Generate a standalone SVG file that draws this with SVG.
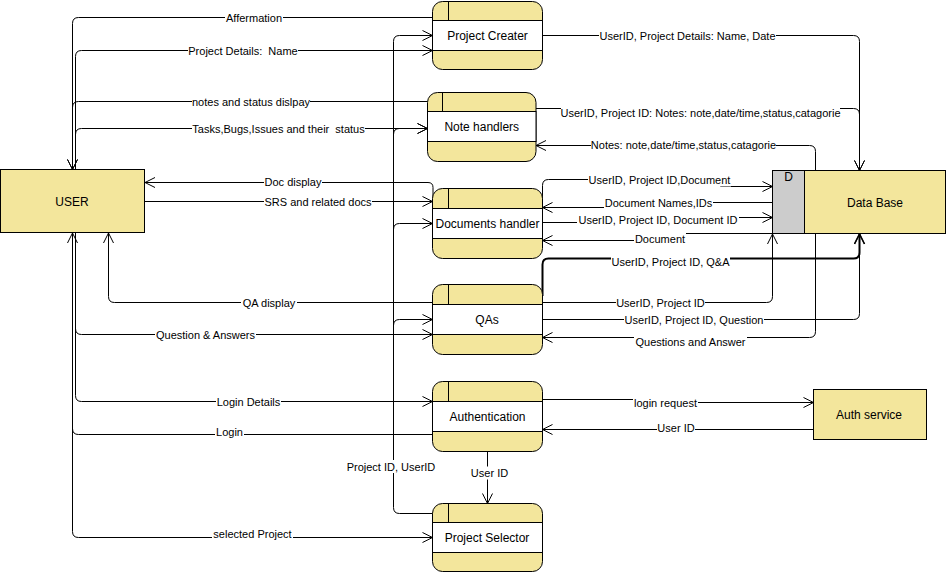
<svg xmlns="http://www.w3.org/2000/svg" width="949" height="575" viewBox="0 0 949 575">
<style>
.proc{fill:#F3E69C;stroke:#000;stroke-width:1}
.band{fill:#fff;stroke:#000;stroke-width:1}
.ent{fill:#F3E69C;stroke:#000;stroke-width:1}
.div{stroke:#000;stroke-width:1}
.nt{font-family:"Liberation Sans",Arial,Helvetica,sans-serif;font-size:12px;fill:#000;text-anchor:middle}
.ln{fill:none;stroke:#000;stroke-width:1;marker-end:url(#arr)}
.ln2{fill:none;stroke:#000;stroke-width:2;marker-end:url(#arr2)}
.lb{font-family:"Liberation Sans",Arial,Helvetica,sans-serif;font-size:11px;fill:#000;text-anchor:middle}
.bg{fill:#fff}
</style>
<defs>
<marker id="arr" viewBox="0 0 12 12" refX="11" refY="6" markerWidth="12" markerHeight="12" markerUnits="userSpaceOnUse" orient="auto"><path d="M1,1 L11,6 L1,11" fill="none" stroke="#000" stroke-width="1"/></marker>
<marker id="arr2" viewBox="0 0 12 12" refX="11" refY="6" markerWidth="12" markerHeight="12" markerUnits="userSpaceOnUse" orient="auto"><path d="M1,1 L11,6 L1,11" fill="none" stroke="#000" stroke-width="1.6"/></marker>
</defs>
<rect width="949" height="575" fill="#fff"/>
<g id="connectors">
<path class="ln" d="M432.5,17.5 H78.5 Q72.5,17.5 72.5,23.5 V169.5"/>
<path class="ln" d="M75.5,169.5 V56.5 Q75.5,50.5 81.5,50.5 H432.5"/>
<path class="ln" d="M427.5,101.5 H78.5 Q72.5,101.5 72.5,107.5 V169.5"/>
<path class="ln" d="M75.5,169.5 V134.5 Q75.5,128.5 81.5,128.5 H427.5"/>
<path class="ln" d="M440,513.5 H399.5 Q393.5,513.5 393.5,507.5 V41.5 Q393.5,35.5 399.5,35.5 H432.5"/>
<path class="ln" d="M393.5,140 V134.5 Q393.5,128.5 399.5,128.5 H427.5"/>
<path class="ln" d="M393.5,235 V229.5 Q393.5,223.5 399.5,223.5 H432.5"/>
<path class="ln" d="M393.5,330 V325.5 Q393.5,319.5 399.5,319.5 H432.5"/>
<path class="ln" d="M433,200 V187.5 Q433,182.5 428,182.5 H145"/>
<path class="ln" d="M145,201.5 H432.5"/>
<path class="ln" d="M432.5,302.5 H114.5 Q108.5,302.5 108.5,296.5 V233"/>
<path class="ln" d="M75.5,233 V328.5 Q75.5,334.5 81.5,334.5 H432.5"/>
<path class="ln" d="M75.5,233 V395.5 Q75.5,401.5 81.5,401.5 H432.5"/>
<path class="ln" d="M432.5,434.5 H78.5 Q72.5,434.5 72.5,428.5 V233"/>
<path class="ln" d="M72.5,233 V531.5 Q72.5,537.5 78.5,537.5 H432.5"/>
<path class="ln" d="M542.5,35.5 H853.5 Q859.5,35.5 859.5,41.5 V170.5"/>
<path class="ln" d="M536,108.5 H853.5 Q859.5,108.5 859.5,114.5 V170.5"/>
<path class="ln" d="M815.5,175 V151.5 Q815.5,145.5 809.5,145.5 H536"/>
<path class="ln" d="M542.5,200 V185.5 Q542.5,179.5 548.5,179.5 H720.5 V186.5 H772.5"/>
<path class="ln" d="M772.5,202.5 H690.5 V207.5 H542.5"/>
<path class="ln" d="M542.5,222.5 H640.5 V217.5 H772.5"/>
<path class="ln" d="M772.5,233.5 H670.5 V240.5 H542.5"/>
<path class="ln2" d="M542.5,296 V264.5 Q542.5,258.5 548.5,258.5 H853.5 Q859.5,258.5 859.5,252.5 V234"/>
<path class="ln" d="M542.5,302.5 H766.5 Q772.5,302.5 772.5,296.5 V234"/>
<path class="ln" d="M542.5,319.5 H853.5 Q859.5,319.5 859.5,313.5 V234"/>
<path class="ln" d="M815.5,230 V331.5 Q815.5,337.5 809.5,337.5 H542.5"/>
<path class="ln" d="M542.5,399.5 H650.5 V402.5 H813.5"/>
<path class="ln" d="M813.5,429.5 H542.5"/>
<path class="ln" d="M487.5,451.5 V503.5"/>
<g id="labels">
<rect class="bg" x="225" y="11" width="58" height="13"/><text class="lb" x="254" y="21.5">Affermation</text>
<rect class="bg" x="188" y="44" width="110" height="13"/><text class="lb" x="243" y="54.5" xml:space="preserve">Project Details:  Name</text>
<rect class="bg" x="192" y="95" width="118" height="13"/><text class="lb" x="251" y="105.5">notes and status dislpay</text>
<rect class="bg" x="192" y="122" width="173" height="13"/><text class="lb" x="278.5" y="132.5" xml:space="preserve">Tasks,Bugs,Issues and their  status</text>
<rect class="bg" x="264" y="175.5" width="58" height="13"/><text class="lb" x="293" y="186">Doc display</text>
<rect class="bg" x="264" y="195" width="108" height="13"/><text class="lb" x="318" y="205.5">SRS and related docs</text>
<rect class="bg" x="241" y="296" width="56" height="13"/><text class="lb" x="269" y="306.5">QA display</text>
<rect class="bg" x="155" y="328.5" width="101" height="13"/><text class="lb" x="205.5" y="339">Question &amp; Answers</text>
<rect class="bg" x="216" y="395.5" width="65" height="13"/><text class="lb" x="248.5" y="406">Login Details</text>
<rect class="bg" x="215" y="425" width="29" height="13"/><text class="lb" x="229.5" y="435.5">Login</text>
<rect class="bg" x="212" y="527.5" width="81" height="13"/><text class="lb" x="252.5" y="538">selected Project</text>
<rect class="bg" x="346" y="460" width="90" height="13"/><text class="lb" x="391" y="470.5">Project ID, UserID</text>
<rect class="bg" x="470" y="466.5" width="39" height="13"/><text class="lb" x="489.5" y="477">User ID</text>
<rect class="bg" x="599" y="29" width="177" height="13"/><text class="lb" x="687.5" y="39.5">UserID, Project Details: Name, Date</text>
<rect class="bg" x="561" y="106.5" width="279" height="13"/><text class="lb" x="700.5" y="117">UserID, Project ID: Notes: note,date/time,status,catagorie</text>
<rect class="bg" x="591" y="138.5" width="185" height="13"/><text class="lb" x="683.5" y="149">Notes: note,date/time,status,catagorie</text>
<rect class="bg" x="588" y="173.5" width="143" height="13"/><text class="lb" x="659.5" y="184">UserID, Project ID,Document</text>
<rect class="bg" x="604" y="196" width="109" height="13"/><text class="lb" x="658.5" y="206.5">Document Names,IDs</text>
<rect class="bg" x="577" y="213" width="162" height="13"/><text class="lb" x="658" y="223.5">UserID, Project ID, Document ID</text>
<rect class="bg" x="634" y="232.5" width="52" height="13"/><text class="lb" x="660" y="243">Document</text>
<rect class="bg" x="611" y="255" width="119" height="13"/><text class="lb" x="670.5" y="265.5">UserID, Project ID, Q&amp;A</text>
<rect class="bg" x="616" y="296" width="89" height="13"/><text class="lb" x="660.5" y="306.5">UserID, Project ID</text>
<rect class="bg" x="624" y="313" width="140" height="13"/><text class="lb" x="694" y="323.5">UserID, Project ID, Question</text>
<rect class="bg" x="634" y="335" width="113" height="13"/><text class="lb" x="690.5" y="345.5">Questions and Answer</text>
<rect class="bg" x="633" y="396" width="65" height="13"/><text class="lb" x="665.5" y="406.5">login request</text>
<rect class="bg" x="657" y="421" width="38" height="13"/><text class="lb" x="676" y="431.5">User ID</text>
</g>
</g>
<g id="user">
<rect class="ent" x="0.5" y="169.5" width="144" height="63"/>
<text class="nt" x="72" y="206">USER</text>
</g>
<g id="project-creater">
<rect class="proc" x="432.5" y="1.5" width="110" height="68" rx="10"/>
<rect class="band" x="432.5" y="20.5" width="110" height="30"/>
<line class="div" x1="448.5" y1="1.5" x2="448.5" y2="20.5"/>
<text class="nt" x="487.5" y="40">Project Creater</text>
</g>
<g id="note-handlers">
<rect class="proc" x="427.5" y="92.5" width="108.5" height="69" rx="10"/>
<rect class="band" x="427.5" y="111.5" width="108.5" height="30"/>
<line class="div" x1="442.5" y1="92.5" x2="442.5" y2="111.5"/>
<text class="nt" x="481.75" y="131">Note handlers</text>
</g>
<g id="documents-handler">
<rect class="proc" x="432.5" y="188.5" width="110" height="70" rx="10"/>
<rect class="band" x="432.5" y="208.5" width="110" height="30"/>
<line class="div" x1="448.5" y1="188.5" x2="448.5" y2="208.5"/>
<text class="nt" x="487.5" y="228">Documents handler</text>
</g>
<g id="qas">
<rect class="proc" x="432.5" y="284.5" width="110" height="70" rx="10"/>
<rect class="band" x="432.5" y="304.5" width="110" height="30"/>
<line class="div" x1="448.5" y1="284.5" x2="448.5" y2="304.5"/>
<text class="nt" x="487" y="324">QAs</text>
</g>
<g id="authentication">
<rect class="proc" x="432.5" y="381.5" width="110" height="70" rx="10"/>
<rect class="band" x="432.5" y="401.5" width="110" height="30"/>
<line class="div" x1="448.5" y1="381.5" x2="448.5" y2="401.5"/>
<text class="nt" x="487.5" y="421">Authentication</text>
</g>
<g id="project-selector">
<rect class="proc" x="432.5" y="503.5" width="110" height="68" rx="10"/>
<rect class="band" x="432.5" y="522.5" width="110" height="30"/>
<line class="div" x1="448.5" y1="503.5" x2="448.5" y2="522.5"/>
<text class="nt" x="487" y="542">Project Selector</text>
</g>
<g id="data-base">
<rect x="772.5" y="170.5" width="32" height="63" fill="#CCCCCC" stroke="#000"/>
<rect x="804.5" y="170.5" width="141" height="63" fill="#F3E69C" stroke="#000"/>
<text class="nt" x="788.5" y="181">D</text>
<text class="nt" x="875" y="207">Data Base</text>
</g>
<g id="auth-service">
<rect class="ent" x="813.5" y="389.5" width="113" height="50"/>
<text class="nt" x="869" y="418.5">Auth service</text>
</g>
</svg>
